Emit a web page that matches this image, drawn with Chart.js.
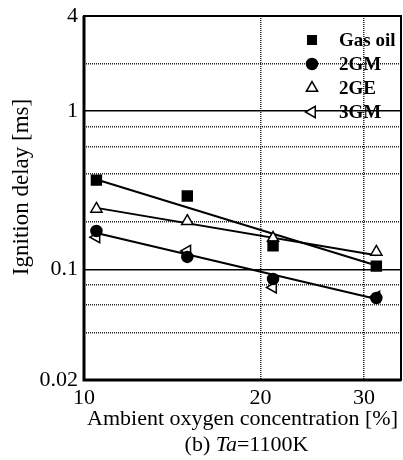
<!DOCTYPE html>
<html>
<head>
<meta charset="utf-8">
<script src="https://cdn.jsdelivr.net/npm/chart.js@4.4.1/dist/chart.umd.min.js"></script>
<style>
  html, body { margin: 0; padding: 0; background: #fff; }
</style>
</head>
<body>
<canvas id="chart" width="403" height="460"></canvas>
<script>
// данные
const oxygen = [10.5, 15, 21, 31.5];
const gasOil = [0.367, 0.291, 0.141, 0.105];
const gm2 = [0.175, 0.12, 0.087, 0.066];
const ge2 = [0.241, 0.202, 0.158, 0.129];
const gm3 = [0.160, 0.131, 0.077, 0.067];

// аппроксимирующие прямые (концы)
const fitX = [10.5, 31.5];
const gasOilFit = [0.37, 0.106];
const ge2Fit = [0.245, 0.123];
const gmFit = [0.170, 0.065];

const yTicks = [0.02, 0.04, 0.06, 0.08, 0.1, 0.2, 0.4, 0.6, 0.8, 1, 2, 4];
const yLabels = { 0.02: "0.02", 0.1: "0.1", 1: "1", 4: "4" };
const xTicks = [10, 20, 30];

const FONT = "'Liberation Serif', 'Times New Roman', serif";

function pts(xs, ys) {
  return xs.map((x, i) => ({ x, y: ys[i] }));
}

const markers = [
  { label: "Gas oil", data: gasOil, pointStyle: "rect", radius: 7, rotation: 0, fill: "#000" },
  { label: "2GM", data: gm2, pointStyle: "circle", radius: 5.5, rotation: 0, fill: "#000" },
  { label: "2GE", data: ge2, pointStyle: "triangle", radius: 6.5, rotation: 0, fill: "#fff" },
  { label: "3GM", data: gm3, pointStyle: "triangle", radius: 6.5, rotation: -90, fill: "#fff" }
];

const datasets = markers.map(m => ({
  label: m.label,
  data: pts(oxygen, m.data),
  showLine: false,
  pointStyle: m.pointStyle,
  pointRadius: m.radius,
  pointRotation: m.rotation,
  pointBackgroundColor: m.fill,
  pointBorderColor: "#000",
  pointBorderWidth: 1.5,
  order: 0
}));

[gasOilFit, ge2Fit, gmFit].forEach(f => {
  datasets.push({
    label: "fit",
    data: pts(fitX, f),
    showLine: true,
    borderColor: "#000",
    borderWidth: 2,
    pointRadius: 0,
    order: 1
  });
});

// рамка, легенда, подпись оси Y и подпись рисунка
const extras = {
  id: "extras",
  afterDraw(chart) {
    const ctx = chart.ctx;
    const a = chart.chartArea;
    ctx.save();
    ctx.strokeStyle = "#000";
    ctx.lineWidth = 2;
    ctx.strokeRect(a.left, a.top, a.right - a.left, a.bottom - a.top);
    ctx.lineWidth = 3;
    ctx.beginPath();
    ctx.moveTo(a.left, a.top);
    ctx.lineTo(a.left, a.bottom);
    ctx.lineTo(a.right, a.bottom);
    ctx.stroke();

    // легенда
    ctx.font = "bold 19px " + FONT;
    ctx.textBaseline = "middle";
    ctx.textAlign = "left";
    markers.forEach((m, i) => {
      const x = a.right - 89;
      const y = a.top + 24 + i * 24;
      ctx.fillStyle = m.fill;
      ctx.strokeStyle = "#000";
      ctx.lineWidth = 1.5;
      Chart.helpers.drawPoint(ctx, {
        pointStyle: m.pointStyle,
        radius: m.pointStyle === "rect" ? 6 : m.radius,
        rotation: m.rotation,
        borderWidth: 1.5
      }, x, y);
      ctx.fillStyle = "#000";
      ctx.fillText(m.label, x + 27, y + 1);
    });

    // подпись оси Y
    ctx.save();
    ctx.translate(22, 187);
    ctx.rotate(-Math.PI / 2);
    ctx.font = "23px " + FONT;
    ctx.textAlign = "center";
    ctx.fillText("Ignition delay [ms]", 0, 0);
    ctx.restore();

    // подпись (b) Ta=1100K
    const parts = [
      { t: "(b) ", f: "22px " + FONT },
      { t: "Ta", f: "italic 22px " + FONT },
      { t: "=1100K", f: "22px " + FONT }
    ];
    let total = 0;
    parts.forEach(p => { ctx.font = p.f; p.w = ctx.measureText(p.t).width; total += p.w; });
    let cx = (a.left + a.right) / 2 + 4 - total / 2;
    ctx.textAlign = "left";
    ctx.textBaseline = "middle";
    parts.forEach(p => {
      ctx.font = p.f;
      ctx.fillText(p.t, cx, 445);
      cx += p.w;
    });
    ctx.restore();
  }
};

function isDecade(v) {
  return v === 0.1 || v === 1;
}

new Chart(document.getElementById("chart"), {
  type: "scatter",
  data: { datasets },
  plugins: [extras],
  options: {
    responsive: false,
    animation: false,
    layout: { autoPadding: false, padding: { left: 0, top: 16, right: 2, bottom: 28 } },
    plugins: { legend: { display: false }, tooltip: { enabled: false } },
    scales: {
      x: {
        type: "logarithmic",
        min: 10,
        max: 34.7,
        afterBuildTicks: s => { s.ticks = xTicks.map(v => ({ value: v })); },
        afterFit: s => { s.height = 52; s.paddingLeft = 0; s.paddingRight = 0; },
        ticks: {
          autoSkip: false,
          maxRotation: 0,
          padding: 5,
          color: "#000",
          font: { family: FONT, size: 22 },
          callback: v => String(v)
        },
        grid: {
          drawTicks: false,
          color: "#222",
          lineWidth: 1.5
        },
        border: { display: false, dash: [1, 1] },
        title: {
          display: true,
          text: "Ambient oxygen concentration [%]",
          color: "#000",
          font: { family: FONT, size: 22 },
          padding: 0
        }
      },
      y: {
        type: "logarithmic",
        min: 0.02,
        max: 4,
        afterBuildTicks: s => { s.ticks = yTicks.map(v => ({ value: v })); },
        afterFit: s => { s.width = 84; s.paddingTop = 0; s.paddingBottom = 0; },
        ticks: {
          autoSkip: false,
          padding: 6,
          color: "#000",
          font: { family: FONT, size: 22 },
          callback: v => yLabels[v] || ""
        },
        grid: {
          drawTicks: false,
          color: c => isDecade(c.tick.value) ? "#000" : "#222",
          lineWidth: 1.5
        },
        border: {
          display: false,
          dash: c => (c.tick && isDecade(c.tick.value)) ? [] : [1, 1]
        },
        title: { display: false }
      }
    }
  }
});
</script>
</body>
</html>
